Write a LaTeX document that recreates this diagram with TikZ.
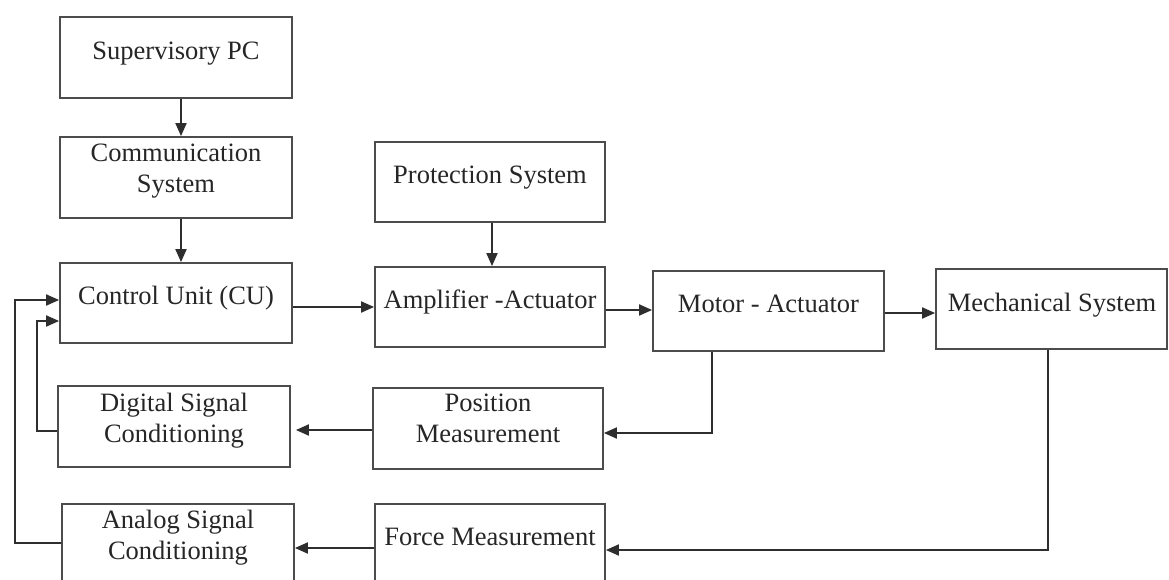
\documentclass[tikz,border=0pt]{standalone}
\usepackage{fontspec}
\setmainfont{Liberation Serif}
\usetikzlibrary{arrows.meta}
\tikzset{
  blk/.style={draw=black!70, line width=1.8pt, inner sep=0pt, fill=none},
  txt/.style={inner sep=0pt, text=black!85, font=\fontsize{26.5}{31}\selectfont, align=center},
  arr/.style={draw=black!82, line width=1.9pt, -{Triangle[length=13pt,width=11pt]}},
}
\begin{document}
\begin{tikzpicture}[x=1pt,y=-1pt]
\useasboundingbox (0,0) rectangle (1169,580);
\fill[white] (0,0) rectangle (1169,580);
\clip (0,0) rectangle (1169,580);
% boxes
\node[blk, minimum width=232pt, minimum height=81pt] (sup) at (176,57.5) {};
\node[blk, minimum width=232pt, minimum height=81pt] (com) at (176,177.5) {};
\node[blk, minimum width=232pt, minimum height=80pt] (cu)  at (176,303) {};
\node[blk, minimum width=230pt, minimum height=80pt] (pro) at (490,182) {};
\node[blk, minimum width=230pt, minimum height=80pt] (amp) at (490,307) {};
\node[blk, minimum width=231pt, minimum height=80pt] (mot) at (768.5,311) {};
\node[blk, minimum width=231pt, minimum height=80pt] (mec) at (1051.5,309) {};
\node[blk, minimum width=232pt, minimum height=81pt] (dig) at (174,426.5) {};
\node[blk, minimum width=230pt, minimum height=81pt] (pos) at (488,428.5) {};
\node[blk, minimum width=232pt, minimum height=81pt] (ana) at (178,544.5) {};
\node[blk, minimum width=230pt, minimum height=81pt] (for) at (490,544.5) {};
% texts
\node[txt, anchor=base] (supt) at (176,60) {Supervisory PC};
\node[txt] (comt) at (176,171.4) {Communication\\System};
\node[txt, anchor=base] (cut) at (176,304) {Control Unit (CU)};
\node[txt, anchor=base] (prot) at (490,183) {Protection System};
\node[txt, anchor=base] (ampt) at (490,308) {Amplifier -Actuator};
\node[txt, anchor=base] (mott) at (768.5,312) {Motor - Actuator};
\node[txt, anchor=base] (mect) at (1052,311) {Mechanical System};
\node[txt] (digt) at (174,420.4) {Digital Signal\\Conditioning};
\node[txt] (post) at (488,418.5) {Position\\Measurement};
\node[txt] (anat) at (178,537.4) {Analog Signal\\Conditioning};
\node[txt, anchor=base] (fort) at (490,545) {Force Measurement};
% connectors
\draw[arr] ([xshift=5pt]sup.south) -- ([xshift=5pt]com.north);
\draw[arr] ([xshift=5pt]com.south) -- ([xshift=5pt]cu.north);
\draw[arr] ([xshift=2pt]pro.south) -- ([xshift=2pt]amp.north);
\draw[arr] ([yshift=-4pt]cu.east) -- (amp.west);
\draw[arr] ([yshift=-3pt]amp.east) -- ([yshift=-3pt]amp.east -| mot.west);
\draw[arr] ([yshift=-2pt]mot.east) -- ([yshift=-2pt]mot.east -| mec.west);
\draw[arr] ([xshift=-56.5pt]mot.south) |- ([yshift=-4.5pt]pos.east);
\draw[arr] ([xshift=-3.5pt]mec.south) |- ([yshift=-5.5pt]for.east);
\draw[arr, shorten >=5pt] ([yshift=-1.5pt]pos.west) -- ([yshift=-1.5pt]pos.west -| dig.east);
\draw[arr] ([yshift=-3.5pt]for.west) -- ([yshift=-3.5pt]for.west -| ana.east);
\draw[arr] ([yshift=-4.5pt]dig.west) -- ++(-20,0) |- ([yshift=-18pt]cu.west);
\draw[arr] ([yshift=1.5pt]ana.west) -- ++(-46,0) |- ([yshift=3pt]cu.west);
\end{tikzpicture}
\end{document}
